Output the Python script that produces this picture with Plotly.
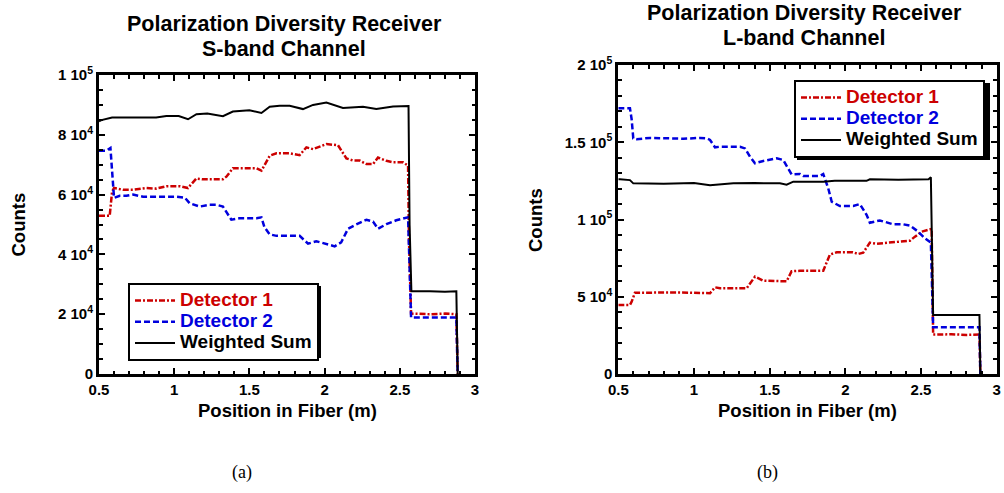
import plotly.graph_objects as go

W, H = 1004, 493
FONT = "Liberation Sans, Arial, sans-serif"
SERIF = "Liberation Serif, Times New Roman, serif"
RED = "#cc0000"
BLUE = "#0000dd"

# ---------------- S-band channel (a) ----------------
s_det1_x = [0.50, 0.571, 0.587, 0.60, 0.66, 0.726, 0.815, 0.88, 0.948, 1.04, 1.092, 1.148,
            1.19, 1.324, 1.347, 1.39, 1.547, 1.58, 1.635, 1.68, 1.768, 1.834, 1.879, 1.923,
            2.012, 2.089, 2.145, 2.189, 2.233, 2.278, 2.322, 2.355, 2.411, 2.455, 2.521,
            2.555, 2.561, 2.575, 2.70, 2.80, 2.876, 2.885]
s_det1_y = [52900, 52900, 61000, 62200, 61600, 61600, 62200, 62000, 62800, 62800, 62200, 65400,
            65100, 65100, 66000, 68800, 68800, 68000, 73000, 73800, 73800, 73200, 75800, 75200,
            76900, 76500, 72100, 71400, 71400, 70200, 70200, 72400, 71300, 70800, 70800,
            69700, 45000, 20200, 20000, 20200, 20000, 0]

s_det2_x = [0.50, 0.549, 0.576, 0.589, 0.60, 0.638, 0.682, 0.726, 0.793, 1.015, 1.07, 1.103,
            1.17, 1.236, 1.28, 1.324, 1.38, 1.435, 1.547, 1.58, 1.60, 1.635, 1.68, 1.834,
            1.89, 1.945, 2.012, 2.067, 2.11, 2.156, 2.21, 2.278, 2.322, 2.355, 2.411, 2.477,
            2.555, 2.561, 2.575, 2.70, 2.876, 2.885]
s_det2_y = [74700, 74700, 75600, 66000, 58900, 59600, 59600, 60000, 59300, 59300, 59000, 57100,
            56000, 56600, 56600, 56000, 51600, 52100, 52100, 52400, 49100, 46700, 46200, 46200,
            43600, 44400, 43600, 42700, 44000, 48600, 50000, 51600, 51000, 48600, 50100, 51400,
            52400, 40000, 18900, 18900, 18900, 0]

s_sum_x = [0.50, 0.516, 0.587, 0.66, 0.88, 0.948, 1.03, 1.092, 1.148, 1.22, 1.324, 1.39,
           1.50, 1.58, 1.635, 1.701, 1.768, 1.856, 1.923, 2.012, 2.122, 2.255, 2.344, 2.455,
           2.544, 2.558, 2.565, 2.577, 2.70, 2.80, 2.876, 2.885]
s_sum_y = [84500, 84900, 85800, 85800, 85800, 86300, 86300, 85200, 86900, 87100, 86200, 87800,
           88200, 87300, 89400, 89700, 89700, 88600, 90000, 90800, 89000, 89400, 88600, 89500,
           89600, 89600, 50000, 27700, 27700, 27500, 27700, 0]

s_yticks = [0, 20000, 40000, 60000, 80000, 100000]
s_yticktext = ["0", "2 10<sup>4</sup>", "4 10<sup>4</sup>", "6 10<sup>4</sup>",
               "8 10<sup>4</sup>", "1 10<sup>5</sup>"]

# ---------------- L-band channel (b) ----------------
l_det1_x = [0.50, 0.577, 0.588, 0.61, 0.643, 0.90, 1.106, 1.139, 1.172, 1.348, 1.403, 1.458,
            1.612, 1.645, 1.70, 1.854, 1.898, 1.943, 2.05, 2.085, 2.118, 2.162, 2.207, 2.316,
            2.427, 2.46, 2.49, 2.504, 2.57, 2.575, 2.58, 2.70, 2.80, 2.886, 2.892]
l_det1_y = [44700, 44700, 46700, 52600, 52600, 52800, 52300, 56100, 55500, 55500, 63000, 60400,
            60000, 66500, 66800, 66800, 77300, 78800, 78800, 77700, 78500, 85000, 84300, 85500,
            86300, 88900, 91500, 92100, 93900, 60000, 25500, 25700, 25300, 25500, 0]

l_det2_x = [0.50, 0.577, 0.588, 0.599, 0.621, 0.709, 0.929, 1.04, 1.084, 1.106, 1.139, 1.172,
            1.304, 1.337, 1.37, 1.403, 1.458, 1.546, 1.59, 1.645, 1.70, 1.722, 1.832, 1.854,
            1.887, 1.91, 1.964, 2.052, 2.096, 2.141, 2.162, 2.228, 2.316, 2.382, 2.427, 2.482,
            2.526, 2.565, 2.572, 2.58, 2.70, 2.886, 2.892]
l_det2_y = [172000, 172000, 165000, 152500, 152000, 152800, 152300, 152800, 152500, 151500, 146700, 147100,
            147100, 146000, 140700, 136400, 137900, 139600, 138500, 129200, 129500, 128200, 128200, 129400,
            120200, 111500, 108700, 108700, 110000, 102900, 97900, 99400, 96900, 96900, 96000, 92100,
            87800, 85000, 60000, 30200, 30200, 30200, 0]

l_sum_x = [0.50, 0.511, 0.577, 0.599, 0.80, 1.0, 1.106, 1.26, 1.40, 1.568, 1.612, 1.656,
           1.854, 1.93, 2.14, 2.162, 2.35, 2.55, 2.565, 2.572, 2.58, 2.70, 2.80, 2.886, 2.892]
l_sum_y = [126000, 126000, 125500, 123400, 123200, 123600, 122200, 123400, 123600, 123400, 122500, 124500,
           124500, 125000, 125000, 126000, 125700, 126000, 127300, 80000, 38200, 38200, 38000, 38200, 0]

l_yticks = [0, 50000, 100000, 150000, 200000]
l_yticktext = ["0", "5 10<sup>4</sup>", "1 10<sup>5</sup>", "1.5 10<sup>5</sup>", "2 10<sup>5</sup>"]

x_ticks = [0.5, 1, 1.5, 2, 2.5, 3]
x_ticktext = ["0.5", "1", "1.5", "2", "2.5", "3"]

series_names = ["Detector 1", "Detector 2", "Weighted Sum"]
colors = [RED, BLUE, "black"]
dashes = ["6px,2px,2px,2px", "6px,3px", "solid"]
widths = [2.5, 2.5, 2]

fig = go.Figure()

panels = [
    ("x", "y", "legend", [(s_det1_x, s_det1_y), (s_det2_x, s_det2_y), (s_sum_x, s_sum_y)]),
    ("x2", "y2", "legend2", [(l_det1_x, l_det1_y), (l_det2_x, l_det2_y), (l_sum_x, l_sum_y)]),
]
for xa, ya, leg, data in panels:
    for (xs, ys), nm, c, d, w in zip(data, series_names, colors, dashes, widths):
        fig.add_trace(go.Scatter(
            x=xs, y=ys, mode="lines", xaxis=xa, yaxis=ya, legend=leg,
            name=f"<span style='color:{c};font-size:19px'>{nm}</span>",
            line=dict(color=c, width=w, dash=d),
        ))

def px2x(p):
    return p / W

def px2y(p):
    return 1 - p / H

tickfont = dict(family=FONT, size=15, color="black", weight="bold")
common = dict(showline=True, linewidth=3, linecolor="black", mirror="ticks",
              ticks="inside", ticklen=6, tickwidth=2, tickcolor="black",
              showgrid=False, zeroline=False, tickfont=tickfont, fixedrange=True,
              automargin=False)
minor_x = dict(dtick=0.1, tick0=0.5, ticks="inside", ticklen=3.5, tickwidth=2, tickcolor="black", showgrid=False)

legend_common = dict(xanchor="left", yanchor="top", bgcolor="white", bordercolor="black",
                     borderwidth=2, font=dict(family=FONT, size=14, weight="bold"),
                     itemwidth=40, tracegroupgap=0)

fig.update_layout(
    template="none",
    width=W, height=H, autosize=False, margin=dict(l=0, r=0, t=0, b=0, pad=0),
    paper_bgcolor="white", plot_bgcolor="white",
    font=dict(family=FONT, color="black"),
    xaxis=dict(domain=[px2x(99), px2x(475)], range=[0.5, 3], anchor="y",
               tickvals=x_ticks, ticktext=x_ticktext, minor=minor_x, **common),
    yaxis=dict(domain=[px2y(374), px2y(75)], range=[0, 100000], anchor="x",
               tickvals=s_yticks, ticktext=s_yticktext,
               minor=dict(dtick=5000, tick0=0, ticks="inside", ticklen=3.5, tickwidth=2,
                          tickcolor="black", showgrid=False),
               **common),
    xaxis2=dict(domain=[px2x(618.3), px2x(996.7)], range=[0.5, 3], anchor="y2",
                tickvals=x_ticks, ticktext=x_ticktext, minor=minor_x, **common),
    yaxis2=dict(domain=[px2y(374), px2y(65)], range=[0, 200000], anchor="x2",
                tickvals=l_yticks, ticktext=l_yticktext,
                minor=dict(dtick=10000, tick0=0, ticks="inside", ticklen=3.5, tickwidth=2,
                           tickcolor="black", showgrid=False),
                **common),
    legend=dict(x=px2x(128), y=px2y(283), **legend_common),
    legend2=dict(x=px2x(794), y=px2y(80), **legend_common),
    showlegend=True,
)

# legend drop shadows (offset 3 px)
for (x0, y0, x1, y1) in [(128, 283, 318, 355), (794, 80, 987, 157)]:
    fig.add_shape(type="rect", xref="paper", yref="paper",
                  x0=px2x(x0 + 3), x1=px2x(x1 + 3), y0=px2y(y1 + 3), y1=px2y(y0 + 3),
                  fillcolor="black", line=dict(width=0), layer="above")

def ann(text, x, y, size, family=FONT, bold=True, angle=0):
    fig.add_annotation(text=text, x=px2x(x), y=px2y(y), xref="paper", yref="paper",
                       xanchor="center", yanchor="middle", showarrow=False, textangle=angle,
                       font=dict(family=family, size=size, color="black",
                                 weight="bold" if bold else "normal"))

ann("Polarization Diversity Receiver", 284, 24, 21.5)
ann("S-band Channel", 284, 49, 21.5)
ann("Polarization Diversity Receiver", 804, 13, 21.5)
ann("L-band Channel", 804, 38, 21.5)
ann("Counts", 17.5, 225, 18.5, angle=-90)
ann("Counts", 536, 220, 18.5, angle=-90)
ann("Position in Fiber (m)", 287, 410, 18.5)
ann("Position in Fiber (m)", 807, 410, 18.5)
ann("(a)", 242, 472, 18, family=SERIF, bold=False)
ann("(b)", 767, 472, 18, family=SERIF, bold=False)

fig.write_html("out.html", config={"displayModeBar": False},
               post_script="document.body.style.margin='0';document.body.style.padding='0';")
